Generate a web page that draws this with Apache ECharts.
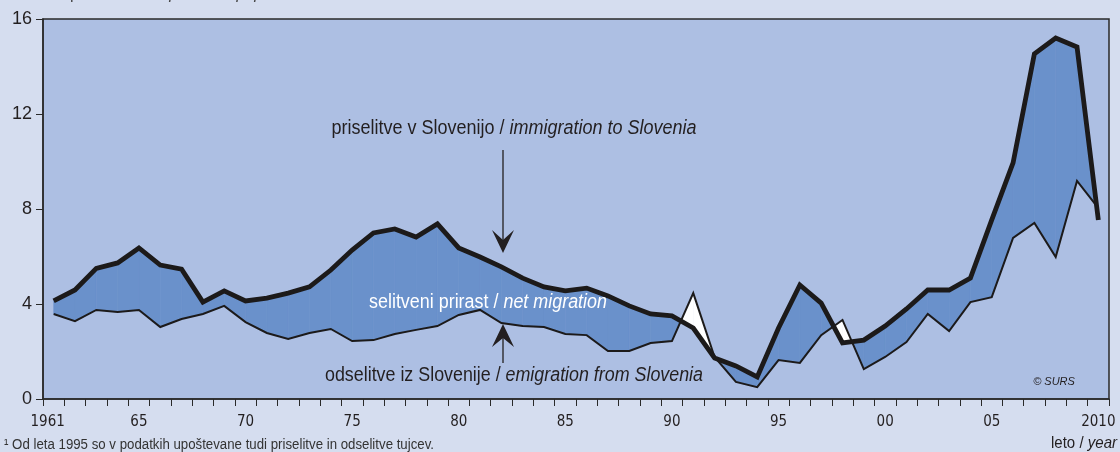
<!DOCTYPE html>
<html>
<head>
<meta charset="utf-8">
<script src="https://cdn.jsdelivr.net/npm/echarts@6/dist/echarts.min.js"></script>
<style>
html,body{margin:0;padding:0;background:#d5ddef;}
#c{width:1120px;height:452px;}
</style>
</head>
<body>
<div id="c"></div>
<script>
// ---- data ----
const years = [];
for (let y = 1961; y <= 2010; y++) years.push(String(y));
const immigration = [4.13,4.59,5.50,5.73,6.36,5.64,5.47,4.08,4.55,4.13,
  4.25,4.46,4.72,5.43,6.27,6.99,7.16,6.82,7.37,6.36,
  5.98,5.56,5.09,4.72,4.55,4.67,4.34,3.92,3.58,3.50,
  2.99,1.73,1.39,0.93,2.99,4.80,4.04,2.36,2.48,3.07,
  3.79,4.59,4.59,5.09,7.54,9.94,14.53,15.20,14.82,7.54];
const emigration = [3.58,3.28,3.75,3.66,3.75,3.03,3.37,3.58,3.92,3.24,
  2.78,2.53,2.78,2.95,2.44,2.48,2.74,2.91,3.07,3.54,
  3.75,3.20,3.07,3.03,2.74,2.69,2.02,2.02,2.36,2.44,
  4.46,1.77,0.72,0.50,1.64,1.52,2.69,3.33,1.26,1.77,
  2.40,3.58,2.86,4.08,4.29,6.78,7.41,5.98,9.18,8.04];
const yTicks = [0, 4, 8, 12, 16];
const labelYears = ['1961','1965','1970','1975','1980','1985','1990','1995','2000','2005','2010'];
const labelTexts = ['1961','65','70','75','80','85','90','95','00','05','2010'];

const segs = [];
for (let i = 0; i < years.length - 1; i++) {
  segs.push([i, immigration[i], emigration[i], immigration[i+1], emigration[i+1]]);
}

const SANS = '"Liberation Sans",Arial,sans-serif';
const XFONT = '"DejaVu Sans Condensed",' + SANS;
const DARK = '#231f20';
const BLUE = '#6a91cb';

// measure text to condense it horizontally to a target width
const mctx = document.createElement('canvas').getContext('2d');
function measure(parts, size) {
  let w = 0;
  parts.forEach(p => {
    mctx.font = (p[1] ? 'italic ' : '') + size + 'px ' + SANS;
    w += mctx.measureText(p[0]).width;
  });
  return w;
}
function condensedText(parts, size, fill, x, y, align, targetW) {
  const w = measure(parts, size);
  const sx = Math.min(1, targetW / w);
  let txt = '';
  parts.forEach(p => { txt += '{' + (p[1] ? 'b' : 'a') + '|' + p[0] + '}'; });
  return {
    type: 'text', x: x, y: y, scaleX: sx, z: 10,
    style: {text: txt, align: align, verticalAlign: 'middle',
      rich: {a: {fontFamily: SANS, fontSize: size, fill: fill},
             b: {fontFamily: SANS, fontSize: size, fill: fill, fontStyle: 'italic'}}}
  };
}

const chart = echarts.init(document.getElementById('c'), null, {renderer: 'canvas'});

function renderBand(params, api) {
  const i = api.value(0);
  const a0 = api.value(1), b0 = api.value(2), a1 = api.value(3), b1 = api.value(4);
  const A0 = api.coord([i, a0]), B0 = api.coord([i, b0]);
  const A1 = api.coord([i + 1, a1]), B1 = api.coord([i + 1, b1]);
  const d0 = a0 - b0, d1 = a1 - b1;
  const col = d => (d >= 0 ? BLUE : '#ffffff');
  const children = [];
  if (d0 * d1 < 0) {
    const t = d0 / (d0 - d1);
    const C = [A0[0] + t * (A1[0] - A0[0]), A0[1] + t * (A1[1] - A0[1])];
    children.push({type: 'polygon', shape: {points: [A0, C, B0]}, style: {fill: col(d0), stroke: col(d0), lineWidth: 0.5}});
    children.push({type: 'polygon', shape: {points: [C, A1, B1]}, style: {fill: col(d1), stroke: col(d1), lineWidth: 0.5}});
  } else {
    const c = col(d0 !== 0 ? d0 : d1);
    children.push({type: 'polygon', shape: {points: [A0, A1, B1, B0]}, style: {fill: c, stroke: c, lineWidth: 0.5}});
  }
  return {type: 'group', children};
}

const option = {
  backgroundColor: '#d5ddef',
  animation: false,
  grid: {left: 43, right: 11, top: 19, bottom: 53, show: true,
         backgroundColor: '#adbfe3', borderColor: '#2a2a2a', borderWidth: 1.5},
  xAxis: {
    type: 'category', data: years, boundaryGap: true,
    axisLine: {lineStyle: {color: '#2a2a2a', width: 1.5}},
    axisTick: {show: true, interval: 0, length: 7, lineStyle: {color: '#2a2a2a'}},
    axisLabel: {
      interval: (idx, val) => labelYears.indexOf(val) >= 0,
      formatter: val => {
        const k = labelYears.indexOf(val);
        if (k < 0) return '';
        return k === 0 ? '{f|' + labelTexts[k] + '}' : labelTexts[k];
      },
      rich: {f: {fontFamily: XFONT, fontSize: 15, color: DARK, padding: [0, 12, 0, 0]}},
      color: DARK, fontFamily: XFONT, fontSize: 15, margin: 16
    },
    splitLine: {show: false}
  },
  yAxis: {
    type: 'value', min: yTicks[0], max: yTicks[yTicks.length - 1], interval: 4,
    axisLine: {show: true, lineStyle: {color: '#2a2a2a', width: 1.5}},
    axisTick: {show: true, length: 7, lineStyle: {color: '#2a2a2a'}},
    axisLabel: {color: DARK, fontFamily: SANS, fontSize: 18, margin: 11, padding: [0, 0, 5, 0]},
    splitLine: {show: false}
  },
  series: [
    {type: 'custom', renderItem: renderBand, data: segs,
     encode: {x: 0, y: [1, 2, 3, 4]}, z: 1, silent: true, clip: true},
    {type: 'line', name: 'emigration', data: emigration, symbol: 'none', z: 3,
     lineStyle: {color: '#1c1a1a', width: 2, join: 'miter'}},
    {type: 'line', name: 'immigration', data: immigration, symbol: 'none', z: 4,
     lineStyle: {color: '#1c1a1a', width: 4.8, join: 'miter'}}
  ],
  graphic: [
    condensedText([['na 1000 prebivalcev¹ / ', false], ['per 1000 population', true]], 16, '#444', 8, -5, 'left', 302),
    condensedText([['priselitve v Slovenijo / ', false], ['immigration to Slovenia', true]], 20, DARK, 514, 128, 'center', 365),
    {type: 'line', z: 10, shape: {x1: 503, y1: 150, x2: 503, y2: 244}, style: {stroke: DARK, lineWidth: 1.3}},
    {type: 'polygon', z: 10, shape: {points: [[503, 253], [492, 230], [503, 240], [514, 230]]}, style: {fill: DARK}},
    condensedText([['selitveni prirast / ', false], ['net migration', true]], 20, '#ffffff', 488, 302, 'center', 238),
    {type: 'line', z: 10, shape: {x1: 503, y1: 334, x2: 503, y2: 363}, style: {stroke: DARK, lineWidth: 1.3}},
    {type: 'polygon', z: 10, shape: {points: [[503, 324], [492, 347], [503, 338], [514, 347]]}, style: {fill: DARK}},
    condensedText([['odselitve iz Slovenije / ', false], ['emigration from Slovenia', true]], 20, DARK, 514, 375, 'center', 378),
    {type: 'text', x: 1054, y: 382, z: 10,
     style: {text: '© SURS', align: 'center', verticalAlign: 'middle',
       fontFamily: SANS, fontSize: 11, fontStyle: 'italic', fill: DARK}},
    condensedText([['¹ Od leta 1995 so v podatkih upoštevane tudi priselitve in odselitve tujcev.', false]], 14, '#333', 4, 445, 'left', 430),
    condensedText([['leto / ', false], ['year', true]], 17, DARK, 1117, 443, 'right', 66)
  ]
};
chart.setOption(option);
</script>
</body>
</html>
